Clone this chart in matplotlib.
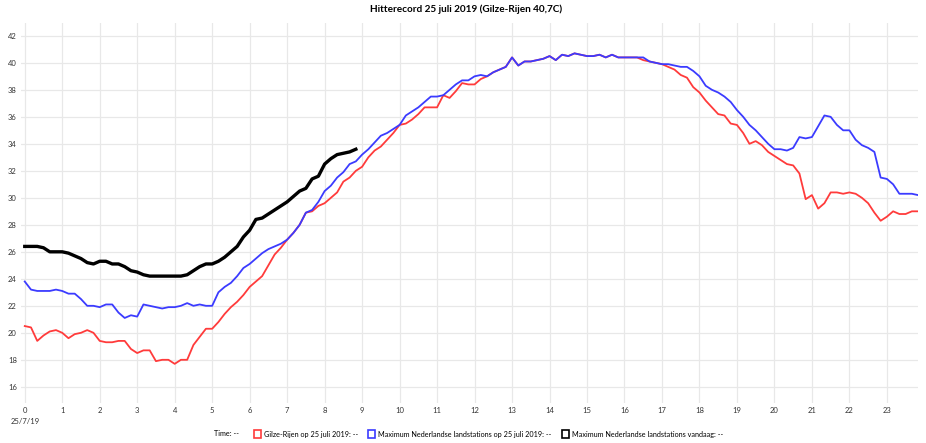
import numpy as np
import matplotlib
matplotlib.use('Agg')
import matplotlib.pyplot as plt
from matplotlib.patches import Rectangle

plt.rcParams['font.family'] = ['Lato', 'DejaVu Sans']

# temperatures every 10 minutes on 25 july 2019
gilze_rijen = [
    20.5, 20.4, 19.4, 19.8, 20.1, 20.2,
    20.0, 19.6, 19.9, 20.0, 20.2, 20.0,
    19.4, 19.3, 19.3, 19.4, 19.4, 18.8,
    18.5, 18.7, 18.7, 17.9, 18.0, 18.0,
    17.7, 18.0, 18.0, 19.1, 19.7, 20.3,
    20.3, 20.8, 21.4, 21.9, 22.3, 22.8,
    23.4, 23.8, 24.2, 25.0, 25.8, 26.3,
    26.9, 27.4, 28.0, 28.9, 29.0, 29.4,
    29.6, 30.0, 30.4, 31.2, 31.5, 32.0,
    32.3, 33.0, 33.5, 33.8, 34.3, 34.8,
    35.4, 35.5, 35.8, 36.2, 36.7, 36.7,
    36.7, 37.6, 37.4, 37.9, 38.5, 38.4,
    38.4, 38.8, 39.0, 39.3, 39.5, 39.7,
    40.4, 39.8, 40.1, 40.1, 40.2, 40.3,
    40.5, 40.2, 40.6, 40.5, 40.7, 40.6,
    40.5, 40.5, 40.6, 40.4, 40.6, 40.4,
    40.4, 40.4, 40.4, 40.2, 40.1, 40.0,
    39.9, 39.7, 39.5, 39.1, 38.9, 38.2,
    37.8, 37.2, 36.7, 36.2, 36.1, 35.5,
    35.4, 34.8, 34.0, 34.2, 33.9, 33.4,
    33.1, 32.8, 32.5, 32.4, 31.8, 29.9,
    30.2, 29.2, 29.6, 30.4, 30.4, 30.3,
    30.4, 30.3, 30.0, 29.6, 28.9, 28.3,
    28.6, 29.0, 28.8, 28.8, 29.0, 29.0,
]
max_nl_2019 = [
    23.8, 23.2, 23.1, 23.1, 23.1, 23.2,
    23.1, 22.9, 22.9, 22.5, 22.0, 22.0,
    21.9, 22.1, 22.1, 21.5, 21.1, 21.3,
    21.2, 22.1, 22.0, 21.9, 21.8, 21.9,
    21.9, 22.0, 22.2, 22.0, 22.1, 22.0,
    22.0, 23.0, 23.4, 23.7, 24.2, 24.8,
    25.1, 25.5, 25.9, 26.2, 26.4, 26.6,
    26.9, 27.4, 28.0, 28.9, 29.1, 29.7,
    30.5, 30.9, 31.5, 31.9, 32.5, 32.7,
    33.2, 33.6, 34.1, 34.6, 34.8, 35.1,
    35.4, 36.1, 36.4, 36.7, 37.1, 37.5,
    37.5, 37.6, 38.0, 38.4, 38.7, 38.7,
    39.0, 39.1, 39.0, 39.3, 39.5, 39.7,
    40.4, 39.8, 40.1, 40.1, 40.2, 40.3,
    40.5, 40.2, 40.6, 40.5, 40.7, 40.6,
    40.5, 40.5, 40.6, 40.4, 40.6, 40.4,
    40.4, 40.4, 40.4, 40.4, 40.1, 40.0,
    39.9, 39.9, 39.8, 39.7, 39.7, 39.4,
    39.0, 38.3, 38.0, 37.8, 37.5, 37.1,
    36.5, 36.0, 35.4, 35.0, 34.5, 34.0,
    33.6, 33.6, 33.5, 33.7, 34.5, 34.4,
    34.5, 35.3, 36.1, 36.0, 35.4, 35.0,
    35.0, 34.3, 33.9, 33.7, 33.4, 31.5,
    31.4, 31.0, 30.3, 30.3, 30.3, 30.2,
]
max_nl_today = [
    26.4, 26.4, 26.4, 26.3, 26.0, 26.0,
    26.0, 25.9, 25.7, 25.5, 25.2, 25.1,
    25.3, 25.3, 25.1, 25.1, 24.9, 24.6,
    24.5, 24.3, 24.2, 24.2, 24.2, 24.2,
    24.2, 24.2, 24.3, 24.6, 24.9, 25.1,
    25.1, 25.3, 25.6, 26.0, 26.4, 27.1,
    27.6, 28.4, 28.5, 28.8, 29.1, 29.4,
    29.7, 30.1, 30.5, 30.7, 31.4, 31.6,
    32.5, 32.9, 33.2, 33.3, 33.4, 33.6,
]
hours = np.arange(len(gilze_rijen)) / 6.0
hours_today = np.arange(len(max_nl_today)) / 6.0

x_ticks = list(range(24))
x_tick_labels = ['0\n25/7/19'] + [str(h) for h in range(1, 24)]
y_ticks = list(range(16, 43, 2))

legend_labels = ['Gilze-Rijen op 25 juli 2019: --',
                 'Maximum Nederlandse landstations op 25 juli 2019: --',
                 'Maximum Nederlandse landstations vandaag: --']

red = '#ff3b3b'
blue = '#3b3bff'
black = '#000000'

fig = plt.figure(figsize=(9.26, 4.43), dpi=100)
ax = fig.add_axes([21 / 926, 1 - 403 / 443, (918 - 21) / 926, (403 - 23) / 443])

ax.plot(hours, gilze_rijen, c=red, lw=1.3, zorder=3)
ax.plot(hours, max_nl_2019, c=blue, lw=1.3, zorder=4)
ax.plot(hours_today, max_nl_today, c=black, lw=2.4, zorder=5)

ax.set_xlim(-0.1, 23.83)
ax.set_ylim(14.8, 42.95)
ax.set_xticks(x_ticks)
ax.set_xticklabels(x_tick_labels, fontsize=5.5, color='#333333', linespacing=1.7)
ax.set_yticks(y_ticks)
ax.set_yticklabels([str(v) for v in y_ticks], fontsize=5.5, color='#333333')
ax.tick_params(length=0, pad=3)
ax.grid(True, color='#e8e8e8', lw=0.9)
for s in ax.spines.values():
    s.set_visible(False)

fig.text(466 / 926, 1 - 9 / 443, 'Hitterecord 25 juli 2019 (Gilze-Rijen 40,7C)',
         ha='center', va='center', fontsize=7.2, fontweight='bold')

# legend row at the bottom
ly = 1 - 434 / 443
fig.text(214 / 926, ly, 'Time: --', ha='left', va='center', fontsize=5.2)
box_x = [254, 368, 562]
for bx, lab, col in zip(box_x, legend_labels, [red, blue, black]):
    fig.patches.append(Rectangle(((bx) / 926, ly - 4 / 443), 7 / 926, 8 / 443,
                                 transform=fig.transFigure, fill=False,
                                 edgecolor=col, lw=1.2))
    fig.text((bx + 10) / 926, ly, lab, ha='left', va='center', fontsize=5.2)

fig.savefig('out.png', dpi=100)
